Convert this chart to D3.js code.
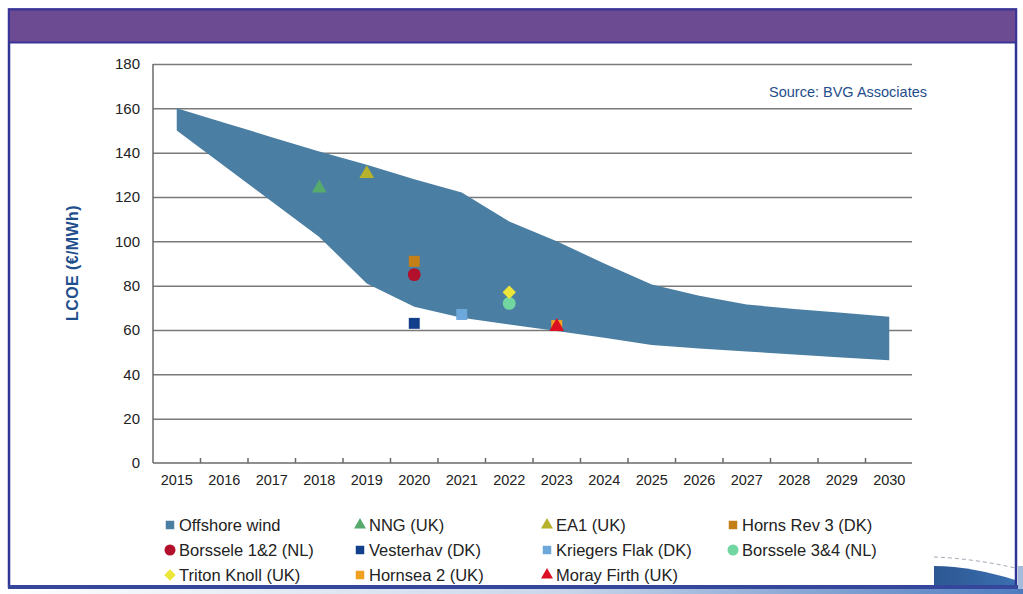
<!DOCTYPE html>
<html>
<head>
<meta charset="utf-8">
<script src="https://cdn.jsdelivr.net/npm/d3@7/dist/d3.min.js"></script>
<style>
  html, body { margin: 0; padding: 0; background: #ffffff; }
  svg { display: block; font-family: "Liberation Sans", Arial, sans-serif; }
</style>
</head>
<body>
<svg id="chart" width="1023" height="594"></svg>
<script>
// ---------- data ----------
const years = ["2015","2016","2017","2018","2019","2020","2021","2022","2023","2024","2025","2026","2027","2028","2029","2030"];
const bandUpper = [160, 153.5, 147, 140.5, 134.5, 128, 122, 109, 100, 90, 80.5, 75.5, 71.5, 69.5, 67.8, 66];
const bandLower = [150, 134, 118, 102, 81, 70.5, 65.5, 62.5, 59.5, 56.5, 53.2, 51.6, 50.3, 49, 47.6, 46.3];
const yTicks = [0, 20, 40, 60, 80, 100, 120, 140, 160, 180];

const projectNames  = ["NNG (UK)", "EA1 (UK)", "Horns Rev 3 (DK)", "Borssele 1&2 (NL)", "Vesterhav (DK)", "Kriegers Flak (DK)", "Borssele 3&4 (NL)", "Triton Knoll (UK)", "Hornsea 2 (UK)", "Moray Firth (UK)"];
const projectYears  = ["2018", "2019", "2020", "2020", "2020", "2021", "2022", "2022", "2023", "2023"];
const projectValues = [124, 130.5, 91, 85, 63, 67, 72, 77, 62, 61.5];

const legendOrder = ["Offshore wind", "NNG (UK)", "EA1 (UK)", "Horns Rev 3 (DK)", "Borssele 1&2 (NL)", "Vesterhav (DK)", "Kriegers Flak (DK)", "Borssele 3&4 (NL)", "Triton Knoll (UK)", "Hornsea 2 (UK)", "Moray Firth (UK)"];

// ---------- styles ----------
const styles = {
  "Offshore wind":      {shape: "square",   color: "#4A7EA2"},
  "NNG (UK)":           {shape: "triangle", color: "#55AA6C"},
  "EA1 (UK)":           {shape: "triangle", color: "#B7B22C"},
  "Horns Rev 3 (DK)":   {shape: "square",   color: "#C47F17"},
  "Borssele 1&2 (NL)":  {shape: "circle",   color: "#B3102B"},
  "Vesterhav (DK)":     {shape: "square",   color: "#123F8C"},
  "Kriegers Flak (DK)": {shape: "square",   color: "#6CA8DC"},
  "Borssele 3&4 (NL)":  {shape: "circle",   color: "#72D6A0"},
  "Triton Knoll (UK)":  {shape: "diamond",  color: "#EDE63A"},
  "Hornsea 2 (UK)":     {shape: "square",   color: "#F2A01F"},
  "Moray Firth (UK)":   {shape: "triangle", color: "#DC1022"}
};

const svg = d3.select("#chart");
const W = 1023, H = 594;

// ---------- frame ----------
svg.append("rect").attr("x", 0).attr("y", 0).attr("width", W).attr("height", H).attr("fill", "#ffffff");

const defs = svg.append("defs");
const grad = defs.append("linearGradient").attr("id", "blueGrad").attr("x1", 0).attr("y1", 0).attr("x2", 1).attr("y2", 0);
grad.append("stop").attr("offset", "0%").attr("stop-color", "#2C5792");
grad.append("stop").attr("offset", "100%").attr("stop-color", "#3B6FB0");
const grad2 = defs.append("linearGradient").attr("id", "stripGrad").attr("x1", 0).attr("y1", 0).attr("x2", 1).attr("y2", 0);
grad2.append("stop").attr("offset", "0%").attr("stop-color", "#ffffff");
grad2.append("stop").attr("offset", "55%").attr("stop-color", "#c9d6ea");
grad2.append("stop").attr("offset", "100%").attr("stop-color", "#4f7cc0");

// strip below bottom line
svg.append("rect").attr("x", 0).attr("y", 589).attr("width", W).attr("height", 5).attr("fill", "url(#stripGrad)");
// bottom-right decoration
svg.append("path")
  .attr("d", "M934,566 C960,566 990,572 1015,580 L1015,588 L934,588 Z")
  .attr("fill", "url(#blueGrad)");
svg.append("path")
  .attr("d", "M934,557 C960,558 990,562 1015,568")
  .attr("fill", "none").attr("stroke", "#a8a8b8").attr("stroke-width", 1).attr("stroke-dasharray", "4,3");
svg.append("rect").attr("x", 1018).attr("y", 566).attr("width", 5).attr("height", 28).attr("fill", "#4a78b8").attr("opacity", 0.5);

// border
svg.append("rect").attr("x", 9).attr("y", 9.5).attr("width", 1007).attr("height", 577)
  .attr("fill", "none").attr("stroke", "#2F3593").attr("stroke-width", 2.5);
// purple banner
svg.append("rect").attr("x", 9).attr("y", 9.5).attr("width", 1007).attr("height", 33)
  .attr("fill", "#6C4B93").attr("stroke", "#3A3596").attr("stroke-width", 2);
// bottom thick line
svg.append("rect").attr("x", 8).attr("y", 585).attr("width", 1010).attr("height", 4).attr("fill", "#34479A");

// ---------- scales ----------
const pLeft = 153, pRight = 913, pTop = 64, pBottom = 463;
const x = d3.scaleBand().domain(years).range([pLeft, pRight]).padding(0);
const y = d3.scaleLinear().domain([0, 180]).range([pBottom, pTop]);
const cx = d => x(d) + x.bandwidth() / 2;

// gridlines
const grid = svg.append("g").attr("transform", `translate(${pLeft},0)`)
  .call(d3.axisLeft(y).tickValues(yTicks.filter(v => v > 0)).tickSize(-(pRight - pLeft - 1)).tickFormat(""));
grid.select(".domain").remove();
grid.selectAll("line").attr("stroke", "#7a7a7a").attr("stroke-width", 1.5);

// area band
const bandData = years.map((yr, i) => ({yr, lo: bandLower[i], hi: bandUpper[i]}));
svg.append("path")
  .datum(bandData)
  .attr("fill", styles["Offshore wind"].color)
  .attr("d", d3.area().x(d => cx(d.yr)).y0(d => y(d.lo)).y1(d => y(d.hi)));

// y axis labels
const yAxis = svg.append("g").attr("transform", `translate(${pLeft},0)`)
  .call(d3.axisLeft(y).tickValues(yTicks).tickSize(0).tickPadding(13));
yAxis.select(".domain").remove();
yAxis.selectAll("text").attr("font-size", 15).attr("fill", "#222").attr("font-family", "Liberation Sans, Arial, sans-serif");

// axis lines
svg.append("line").attr("x1", pLeft).attr("x2", pLeft).attr("y1", pTop).attr("y2", pBottom)
  .attr("stroke", "#6a6a6a").attr("stroke-width", 1.5);
svg.append("line").attr("x1", pLeft).attr("x2", pRight - 1).attr("y1", pBottom).attr("y2", pBottom)
  .attr("stroke", "#6a6a6a").attr("stroke-width", 1.5);
svg.append("g").selectAll("line").data(years.slice(1)).join("line")
  .attr("x1", d => x(d)).attr("x2", d => x(d)).attr("y1", pBottom - 5).attr("y2", pBottom)
  .attr("stroke", "#6a6a6a").attr("stroke-width", 1.5);

// x axis labels
const xAxis = svg.append("g").attr("transform", `translate(0,${pBottom})`)
  .call(d3.axisBottom(x).tickSize(0).tickPadding(12));
xAxis.select(".domain").remove();
xAxis.selectAll("text").attr("font-size", 14.5).attr("fill", "#222").attr("font-family", "Liberation Sans, Arial, sans-serif");

// y title
svg.append("text")
  .attr("transform", `translate(78,263) rotate(-90)`)
  .attr("text-anchor", "middle")
  .attr("font-size", 16).attr("font-weight", "bold").attr("fill", "#1F4E8C").attr("letter-spacing", 0.4)
  .text("LCOE (€/MWh)");

// source
svg.append("text").attr("x", 927).attr("y", 97).attr("text-anchor", "end")
  .attr("font-size", 14.5).attr("fill", "#1F4E8C").text("Source: BVG Associates");

// ---------- markers ----------
function symbolPath(shape, size) {
  if (shape === "diamond") {
    const r = Math.sqrt(size / 2);
    return `M0,${-r}L${r},0L0,${r}L${-r},0Z`;
  }
  const map = {square: d3.symbolSquare, triangle: d3.symbolTriangle, circle: d3.symbolCircle};
  return d3.symbol().type(map[shape]).size(size)();
}
const sizeFor = {square: 120, triangle: 95, circle: 130, diamond: 90};

const pts = projectNames.map((n, i) => ({name: n, yr: projectYears[i], v: projectValues[i]}));
svg.append("g").selectAll("path").data(pts).join("path")
  .attr("transform", d => `translate(${cx(d.yr)},${y(d.v)})`)
  .attr("d", d => symbolPath(styles[d.name].shape, sizeFor[styles[d.name].shape]))
  .attr("fill", d => styles[d.name].color);

// ---------- legend ----------
const colX = [170, 360, 547, 733];
const rowY = [525, 550, 575];
const leg = svg.append("g").selectAll("g").data(legendOrder).join("g")
  .attr("transform", (d, i) => `translate(${colX[i % 4]},${rowY[Math.floor(i / 4)]})`);
const legSize = {square: 72, triangle: 62, circle: 95, diamond: 66};
leg.append("path")
  .attr("d", d => symbolPath(styles[d].shape, legSize[styles[d].shape]))
  .attr("fill", d => styles[d].color);
leg.append("text").attr("x", 9).attr("y", 5.8)
  .attr("font-size", 16.5).attr("fill", "#222")
  .text(d => d);
</script>
</body>
</html>
